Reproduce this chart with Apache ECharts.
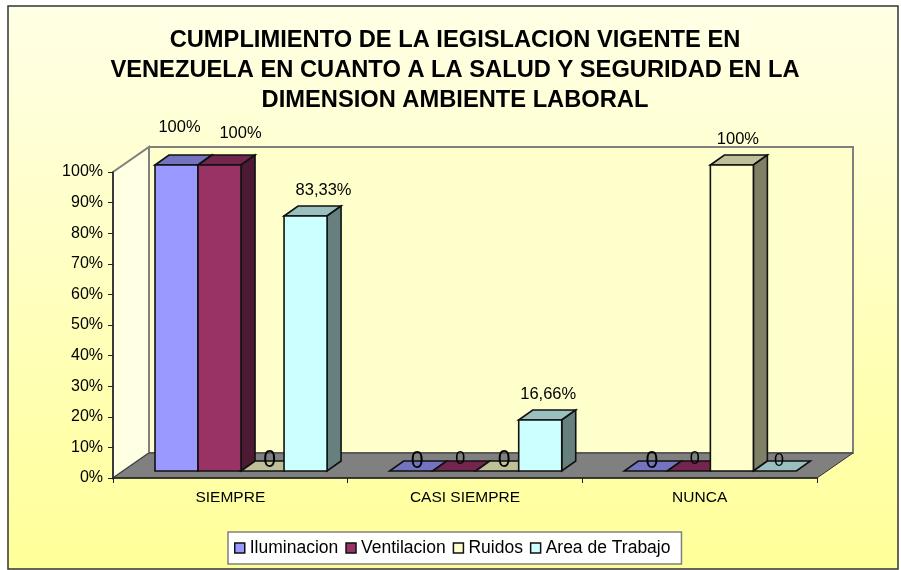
<!DOCTYPE html>
<html>
<head>
<meta charset="utf-8">
<title>Cumplimiento</title>
<script src="https://cdn.jsdelivr.net/npm/echarts@6/dist/echarts.min.js"></script>
<style>
  html, body { margin: 0; padding: 0; background: #fff; }
  #chart { width: 901px; height: 570px; }
</style>
</head>
<body>
<div id="chart"></div>
<script>
  const categories = ['SIEMPRE', 'CASI SIEMPRE', 'NUNCA'];
  const iluminacion = [100, 0, 0];
  const ventilacion = [100, 0, 0];
  const ruidos = [0, 0, 100];
  const areaTrabajo = [83.33, 16.66, 0];

  const FONT = '"Liberation Sans", Arial, sans-serif';

  // cara frontal, tapa, lateral
  const seriesDefs = [
    {name: 'Iluminacion', data: iluminacion, colors: ['#9999ff', '#7373bf', '#4d4d80']},
    {name: 'Ventilacion', data: ventilacion, colors: ['#993366', '#73264d', '#4d1a33']},
    {name: 'Ruidos', data: ruidos, colors: ['#ffffcc', '#bfbf99', '#808066']},
    {name: 'Area de Trabajo', data: areaTrabajo, colors: ['#ccffff', '#99bfbf', '#668080']},
  ];

  // desplazamiento de cada etiqueta respecto a la cara frontal [dx, dy, fontSize]
  const labelPlacement = [
    [[3, -38, 16.5], [6, -9, 23], [6, -9, 23]],
    [[21, -32, 16.5], [6, -12, 18], [6, -12, 18]],
    [[7, -10, 23], [7, -10, 23], [6, -26, 16.5]],
    [[18, -26, 16.5], [8, -26, 16.5], [4, -10, 18]],
  ];

  const DEPTH_X = 36;
  const DEPTH_Y = 25;
  const BAR_DEPTH_X = 14;
  const BAR_DEPTH_Y = 10;
  const BAR_RATIO = 0.1833;
  const SHIFT_X = 10.7;
  const SHIFT_Y = 7;

  function formatLabel(v) {
    return v === 0 ? '0' : String(v).replace('.', ',') + '%';
  }

  function poly(points, fill, stroke, lineWidth) {
    return {type: 'polygon', shape: {points}, style: {fill, stroke, lineWidth}};
  }

  function renderWalls(params) {
    const {x, y, width: w, height: h} = params.coordSys;
    const dx = DEPTH_X;
    const dy = DEPTH_Y;
    return {
      type: 'group',
      children: [
        poly([[x, y + h], [x + dx, y + h - dy], [x + dx, y - dy], [x, y]], '#ffffe3', '#808080', 2),
        poly([[x + dx, y + h - dy], [x + dx + w, y + h - dy], [x + dx + w, y - dy], [x + dx, y - dy]], '#ffffcc', '#808080', 2),
        poly([[x, y + h], [x + dx, y + h - dy], [x + dx + w, y + h - dy], [x + w, y + h]], '#808080', '#333333', 1),
      ],
    };
  }

  function renderBar(seriesPos, params, api) {
    const cat = api.value(0);
    const val = api.value(1);
    const def = seriesDefs[seriesPos];
    const band = api.size([1, 0])[0];
    const bw = band * BAR_RATIO;
    const top = api.coord([cat, val]);
    const base = api.coord([cat, 0]);
    const left = base[0] + SHIFT_X - 2 * bw + seriesPos * bw;
    const right = left + bw;
    const y0 = base[1] - SHIFT_Y;
    const y1 = top[1] - SHIFT_Y;
    const ddx = BAR_DEPTH_X;
    const ddy = BAR_DEPTH_Y;
    const line = '#111111';
    const children = [
      poly([[left, y1], [left + ddx, y1 - ddy], [right + ddx, y1 - ddy], [right, y1]], def.colors[1], line, 1.6),
    ];
    if (val > 0) {
      children.push(poly([[right, y1], [right + ddx, y1 - ddy], [right + ddx, y0 - ddy], [right, y0]], def.colors[2], line, 1.6));
      children.push(poly([[left, y1], [right, y1], [right, y0], [left, y0]], def.colors[0], line, 1.6));
    }
    const place = labelPlacement[seriesPos][cat];
    children.push({
      type: 'text',
      z2: 50,
      style: {
        x: (left + right) / 2 + place[0],
        y: y1 + place[1],
        text: formatLabel(val),
        fill: '#000',
        font: place[2] + 'px ' + FONT,
        align: 'center',
        verticalAlign: 'middle',
      },
    });
    return {type: 'group', children};
  }

  const chart = echarts.init(document.getElementById('chart'));

  chart.setOption({
    animation: false,
    backgroundColor: '#ffffff',
    textStyle: {fontFamily: FONT},
    graphic: [{
      type: 'rect',
      z: -10,
      shape: {x: 8, y: 6, width: 890, height: 563},
      style: {
        fill: new echarts.graphic.LinearGradient(0, 0, 0, 1, [
          {offset: 0, color: '#ffffe6'},
          {offset: 1, color: '#ffff99'},
        ]),
        stroke: '#333333',
        lineWidth: 1.5,
      },
    }],
    title: {
      text: 'CUMPLIMIENTO DE LA IEGISLACION VIGENTE EN\nVENEZUELA EN CUANTO A LA SALUD Y SEGURIDAD EN LA\nDIMENSION AMBIENTE LABORAL',
      left: 450,
      top: 20,
      textAlign: 'center',
      textStyle: {
        fontFamily: FONT,
        fontSize: 23.7,
        fontWeight: 'bold',
        color: '#000',
        lineHeight: 30,
      },
    },
    legend: {
      left: 228,
      top: 532,
      orient: 'horizontal',
      backgroundColor: '#ffffff',
      borderColor: '#808080',
      borderWidth: 1.5,
      borderRadius: 0,
      padding: [7, 11, 7, 6],
      itemWidth: 10,
      itemHeight: 10,
      itemGap: 7,
      icon: 'rect',
      textStyle: {fontFamily: FONT, fontSize: 17.5, color: '#000', padding: [0, 0, 0, 0]},
      data: seriesDefs.map(d => d.name),
      itemStyle: {borderColor: '#111111', borderWidth: 1.5},
    },
    grid: {left: 113, right: 84, top: 172, bottom: 92},
    xAxis: {
      type: 'category',
      data: categories,
      z: 5,
      axisLine: {lineStyle: {color: '#222222', width: 1.5}},
      axisTick: {show: true, alignWithLabel: false, length: 5, lineStyle: {color: '#222222'}},
      axisLabel: {fontFamily: FONT, fontSize: 15.5, color: '#000', margin: 12},
    },
    yAxis: {
      type: 'value',
      min: 0,
      max: 100,
      interval: 10,
      z: 5,
      splitLine: {show: false},
      axisLine: {show: true, lineStyle: {color: '#222222', width: 1.5}},
      axisTick: {show: true, length: 5, lineStyle: {color: '#222222'}},
      axisLabel: {fontFamily: FONT, fontSize: 16, color: '#000', margin: 10, formatter: '{value}%'},
    },
    series: [
      {
        type: 'custom',
        name: 'paredes',
        silent: true,
        z: 1,
        clip: false,
        renderItem: renderWalls,
        data: [[0, 0]],
        encode: {x: 0, y: 1},
      },
    ].concat(seriesDefs.map((def, i) => ({
      type: 'custom',
      name: def.name,
      z: 2 + i,
      clip: false,
      itemStyle: {color: def.colors[0]},
      renderItem: (params, api) => renderBar(i, params, api),
      encode: {x: 0, y: 1},
      data: def.data.map((v, c) => [c, v]),
    }))),
  });
</script>
</body>
</html>
